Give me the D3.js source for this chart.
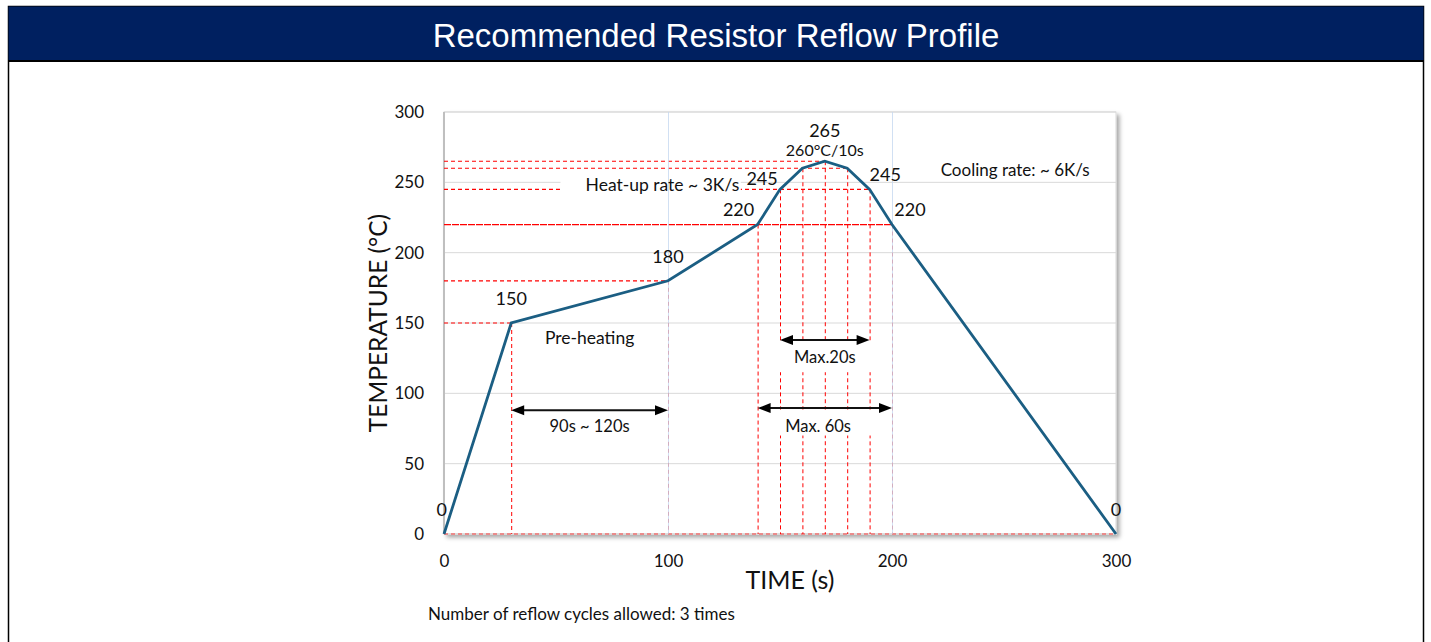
<!DOCTYPE html>
<meta charset="utf-8">
<html>
<script src="https://cdnjs.cloudflare.com/ajax/libs/d3/7.8.5/d3.min.js"></script>
<style>
  body { margin: 0; background: #fff; }
  svg text { font-family: Lato, "Noto Sans", sans-serif; fill: #111; }
</style>
<body>
<div id="chart"></div>
<script>
// reflow profile points
const timeS = [0, 30, 100, 140, 150, 160, 170, 180, 190, 200, 300];
const tempC = [0, 150, 180, 220, 245, 260, 265, 260, 245, 220, 0];

const yTicks = [0, 50, 100, 150, 200, 250, 300];
const xTicks = [0, 100, 200, 300];

// red dashed guides: horizontal [temp, up to time], vertical [time, up to temp]
const hGuideTemp = [150, 180, 220, 245, 260, 265, 0];
const hGuideEnd  = [30, 100, 200, 190, 180, 170, 300];
const vGuideTime = [30, 100, 140, 150, 160, 170, 180, 190, 200];
const vGuideTop  = [150, 180, 220, 245, 260, 265, 260, 245, 220];

// value labels next to the curve (placed in data coords)
const ptText = ["0", "150", "180", "220", "245", "265", "260°C/10s", "245", "220", "0"];
const ptT    = [-1, 30, 100, 131.5, 142, 170, 170, 197, 208, 300];
const ptV    = [18, 168, 197.5, 231, 253, 287.5, 273.5, 256, 231, 18];

// double arrows: from time, to time, at temp
const arrFrom = [30, 140, 150];
const arrTo   = [100, 200, 190];
const arrAt   = [88, 89.5, 138];

// notes
const noteText = ["Pre-heating", "Heat-up rate ~ 3K/s", "Cooling rate: ~ 6K/s", "90s ~ 120s", "Max. 60s", "Max.20s"];
const noteT    = [65, 97.5, 255, 65, 167, 170];
const noteV    = [140, 248.5, 259, 77, 77, 126];
const noteSize = [17.5, 17.5, 17, 16.5, 16.5, 16.5];

const W = 1431, H = 642;
const svg = d3.select("#chart").append("svg")
  .attr("width", W).attr("height", H);

// frame + header
svg.append("rect").attr("x", 8.5).attr("y", 6.5).attr("width", 1415).attr("height", 660)
  .attr("fill", "#fff").attr("stroke", "#000").attr("stroke-width", 1.5);
svg.append("rect").attr("x", 8.5).attr("y", 6.5).attr("width", 1415).attr("height", 54.5)
  .attr("fill", "#002060");
svg.append("line").attr("x1", 8).attr("x2", 1424).attr("y1", 61).attr("y2", 61)
  .attr("stroke", "#000").attr("stroke-width", 2);
svg.append("text").attr("x", 716).attr("y", 47)
  .attr("text-anchor", "middle")
  .style("font-family", "'Liberation Sans', Arial, sans-serif")
  .style("font-size", "33px").style("fill", "#fff")
  .text("Recommended Resistor Reflow Profile");

const x = d3.scaleLinear().domain([0, 300]).range([444, 1116]);
const y = d3.scaleLinear().domain([0, 300]).range([534, 112]);

// plot area with shadow
const defs = svg.append("defs");
const f = defs.append("filter").attr("id", "shadow")
  .attr("x", "-5%").attr("y", "-5%").attr("width", "110%").attr("height", "110%");
f.append("feDropShadow").attr("dx", 3).attr("dy", 3).attr("stdDeviation", 2)
  .attr("flood-color", "#000").attr("flood-opacity", 0.35);
svg.append("rect").attr("x", x(0)).attr("y", y(300))
  .attr("width", x(300) - x(0)).attr("height", y(0) - y(300))
  .attr("fill", "#fff").attr("stroke", "#d9d9d9").attr("filter", "url(#shadow)");

// horizontal gridlines
svg.append("g").selectAll("line").data(yTicks.slice(1)).join("line")
  .attr("x1", x(0)).attr("x2", x(300))
  .attr("y1", d => y(d)).attr("y2", d => y(d))
  .attr("stroke", "#d9d9d9").attr("stroke-width", 1);

// left axis line
svg.append("line").attr("x1", x(0)).attr("x2", x(0)).attr("y1", y(300)).attr("y2", y(0))
  .attr("stroke", "#bfbfbf").attr("stroke-width", 2);
svg.append("line").attr("x1", x(0)).attr("x2", x(300)).attr("y1", y(0)).attr("y2", y(0))
  .attr("stroke", "#d9d9d9").attr("stroke-width", 1.5);

// red guides
const guides = svg.append("g").attr("stroke", "#ff0000").attr("stroke-width", 1).attr("fill", "none");
hGuideTemp.forEach((v, i) => {
  guides.append("line")
    .attr("x1", x(0)).attr("x2", x(hGuideEnd[i]))
    .attr("y1", y(v)).attr("y2", y(v))
    .attr("stroke-dasharray", v === 220 ? "7,1" : "4,3")
    .attr("stroke", v === 0 ? "#f07070" : "#ff0000")
    .attr("stroke-width", v === 0 ? 1.5 : 1.2);
});
vGuideTime.forEach((t, i) => {
  guides.append("line")
    .attr("x1", x(t) + 0.5).attr("x2", x(t) + 0.5)
    .attr("y1", y(vGuideTop[i])).attr("y2", y(0))
    .attr("stroke-dasharray", "4,3");
});

// white patches behind some notes
function patch(t0, t1, v0, v1) {
  svg.append("rect").attr("x", x(t0)).attr("y", y(v1))
    .attr("width", x(t1) - x(t0)).attr("height", y(v0) - y(v1)).attr("fill", "#fff");
}
patch(52, 132.5, 243, 253);
patch(146, 193, 115, 137.5);
patch(146, 193, 70, 88.5);

// vertical gridlines
svg.append("g").selectAll("line").data([100, 200]).join("line")
  .attr("x1", d => x(d) + 0.5).attr("x2", d => x(d) + 0.5)
  .attr("y1", y(300)).attr("y2", y(0))
  .attr("stroke", "#c6d9f1").attr("stroke-width", 1).attr("opacity", 0.8);

// axes tick labels
svg.append("g").attr("transform", `translate(${x(0) - 20},0)`)
  .call(d3.axisLeft(y).tickValues(yTicks).tickSize(0).tickPadding(0))
  .call(g => g.select(".domain").remove())
  .selectAll("text").style("font-size", "17px").style("font-family", "Lato, sans-serif").attr("fill", "#111");
svg.append("g").attr("transform", `translate(0,${y(0) + 18})`)
  .call(d3.axisBottom(y.copy().range([x(0), x(300)])).tickValues(xTicks).tickSize(0).tickPadding(3))
  .call(g => g.select(".domain").remove())
  .selectAll("text").style("font-size", "17px").style("font-family", "Lato, sans-serif").attr("fill", "#111");

// axis titles
svg.append("text").attr("transform", `translate(377,${(y(0) + y(300)) / 2}) rotate(-90)`)
  .attr("text-anchor", "middle").attr("dominant-baseline", "central")
  .style("font-size", "24.5px").text("TEMPERATURE (°C)");
svg.append("text").attr("x", 790).attr("y", 589).attr("text-anchor", "middle")
  .style("font-size", "25px").text("TIME (s)");

// profile line
const line = d3.line().x((d, i) => x(timeS[i])).y((d, i) => y(tempC[i]));
svg.append("path").datum(tempC).attr("d", line)
  .attr("fill", "none").attr("stroke", "#1b5e83").attr("stroke-width", 2.8)
  .attr("stroke-linejoin", "miter");

// arrows
const arr = svg.append("g");
arrFrom.forEach((t0, i) => {
  const yy = y(arrAt[i]), a = x(t0), b = x(arrTo[i]);
  arr.append("line").attr("x1", a + 8).attr("x2", b - 8).attr("y1", yy).attr("y2", yy)
    .attr("stroke", "#111").attr("stroke-width", 2);
  arr.append("path").attr("d", `M${a},${yy} L${a + 13},${yy - 5} L${a + 13},${yy + 5} Z`).attr("fill", "#000");
  arr.append("path").attr("d", `M${b},${yy} L${b - 13},${yy - 5} L${b - 13},${yy + 5} Z`).attr("fill", "#000");
});

// value labels
svg.append("g").selectAll("text").data(ptText).join("text")
  .attr("x", (d, i) => x(ptT[i])).attr("y", (d, i) => y(ptV[i]))
  .attr("text-anchor", "middle").attr("dominant-baseline", "central")
  .style("font-size", (d, i) => d.length > 4 ? "16px" : "18px")
  .text(d => d);

// notes
svg.append("g").selectAll("text").data(noteText).join("text")
  .attr("x", (d, i) => x(noteT[i])).attr("y", (d, i) => y(noteV[i]))
  .attr("text-anchor", "middle").attr("dominant-baseline", "central")
  .style("font-size", (d, i) => noteSize[i] + "px")
  .text(d => d);

svg.append("text").attr("x", 428).attr("y", 620)
  .style("font-size", "17px").text("Number of reflow cycles allowed: 3 times");
</script>
</body>
</html>
